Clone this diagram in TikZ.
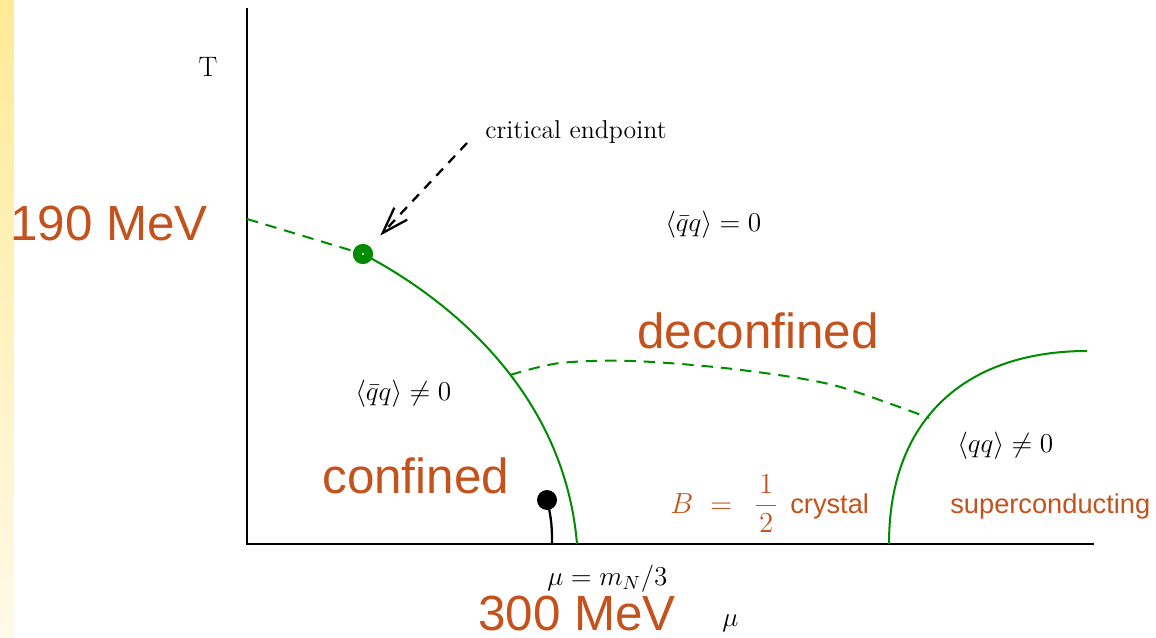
\RequirePackage{fix-cm}
\documentclass[tikz,border=0pt]{standalone}
\usepackage{fontspec}
\newfontfamily\arial{Liberation Sans}
\usetikzlibrary{arrows.meta}
\definecolor{orng}{RGB}{196,82,28}
\definecolor{grn}{RGB}{0,140,0}
\definecolor{stripetop}{RGB}{255,234,150}
\definecolor{stripebot}{RGB}{255,250,232}
\begin{document}
\begin{tikzpicture}[x=0.02cm,y=-0.02cm,
  axis/.style={line width=1.6pt,black},
  gline/.style={line width=1.15pt,grn},
  gdash/.style={line width=1.15pt,grn,dash pattern=on 6.5pt off 4.5pt},
  arr/.style={line width=1.3pt,black,dash pattern=on 5.5pt off 4.5pt,
    -{Straight Barb[length=15pt,width=10pt]},shorten >=8.5pt},
  gdot/.style={circle,fill=grn,inner sep=0pt,minimum size=0.4cm},
  bdot/.style={circle,fill=black,inner sep=0pt,minimum size=0.4cm},
  stem/.style={line width=1.3pt,black},
  big/.style={font=\arial\fontsize{28.1}{30}\selectfont,text=orng,inner sep=0pt},
  small/.style={font=\arial\fontsize{15.5}{18}\selectfont,text=orng,inner sep=0pt},
  mth/.style={font=\fontsize{15.5}{18}\selectfont,inner sep=0pt},
  txt/.style={font=\fontsize{14.7}{17}\selectfont,inner sep=0pt},
  tlabel/.style={font=\fontsize{16}{18}\selectfont,inner sep=0pt}]
\useasboundingbox (0,0) rectangle (1156,638);
\shade[top color=stripetop,bottom color=stripebot] (0,0) rectangle (14,638);

% axes
\coordinate (ytop) at (247,8);
\coordinate (orig) at (247,544);
\coordinate (xend) at (1094,544);
\draw[axis] (ytop) -- (orig) -- (xend);

% phase lines
\node[gdot] (cep) at (363,254) {};
\coordinate (lt) at (247,219);
\coordinate (c1) at (577,544);
\coordinate (r0) at (889,544);
\coordinate (r1) at (1087,351);
\coordinate (d0) at (510,375);
\coordinate (d5) at (929,418);
\draw[gdash] (lt) -- (cep);
\draw[gline] (cep.center) .. controls (460,305) and (565,400) .. (c1);
\draw[gdash] plot[smooth] coordinates {(d0) (560,363) (633,361) (733,369) (833,385) (d5)};
\draw[gline] (r0) .. controls (889,415) and (970,351) .. (r1);
\node[gdot] at (cep.center) {};
\fill[white] (cep.center) circle (1.2);

% black dot
\node[bdot] (bd) at (547,500) {};
\coordinate (bs) at (552,544);
\draw[stem] (bd.center) .. controls (552,520) and (552,530) .. (bs);

% arrow
\coordinate (arrs) at (467,143);
\draw[arr] (arrs) -- (cep);

% labels
\node[tlabel,anchor=base] (tlab) at (208,77) {T};
\node[big,anchor=base west] (mev190) at (10,241) {190 MeV};
\node[txt,anchor=base west] (celab) at (485,139) {critical endpoint};
\node[mth,anchor=base west] (qqz) at (665,232) {$\langle\bar qq\rangle=0$};
\node[big,anchor=base west] (dec) at (637,349) {deconfined};
\node[mth,anchor=base west] (qqn) at (355,400) {$\langle\bar qq\rangle\neq0$};
\node[big,anchor=base west] (conf) at (322,493) {confined};
\node[mth,anchor=base west] (qqd) at (957,452) {$\langle qq\rangle\neq0$};
\node[small,anchor=base west] (sup) at (950,513) {superconducting};
\node[font=\fontsize{16.5}{18}\selectfont,inner sep=0pt,text=orng,anchor=base west] (bcr) at (670,513)
  {$B\ =\ \kern3pt\displaystyle\frac{\kern1.5pt1\kern1.5pt}{2}$\hspace{7pt}{\arial\fontsize{15.5}{18}\selectfont crystal}};
\node[mth,anchor=base west] (mun) at (547,585) {$\mu=m_N/3$};
\node[big,anchor=base west] (mev300) at (478,630) {300 MeV};
\node[mth,anchor=base west] (mulab) at (722,626) {$\mu$};
\end{tikzpicture}
\end{document}
